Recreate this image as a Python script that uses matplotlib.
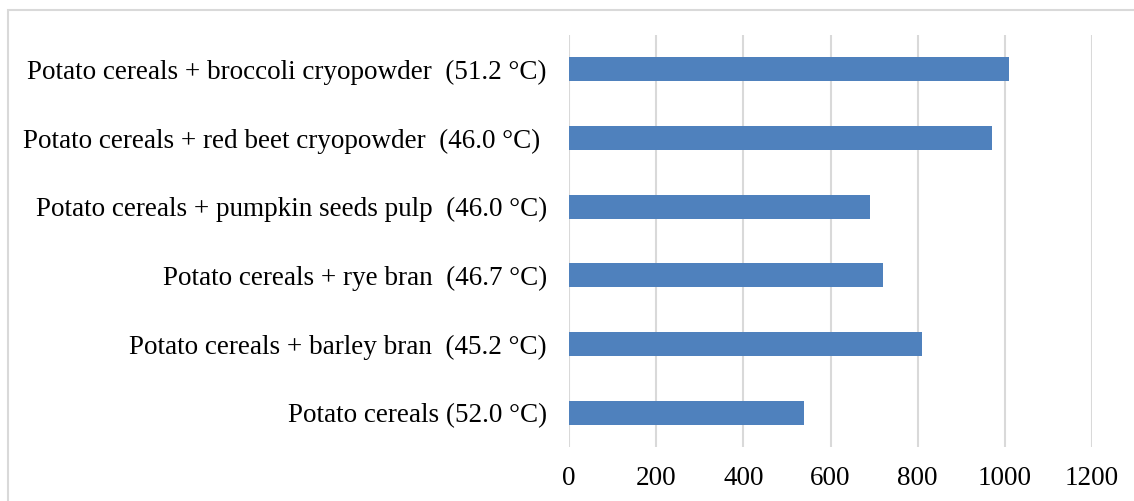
import matplotlib
matplotlib.use('Agg')
import matplotlib.pyplot as plt
from matplotlib.patches import Rectangle

# categories listed bottom to top
labels = [
    'Potato cereals (52.0 \u00b0C)',
    'Potato cereals + barley bran  (45.2 \u00b0C)',
    'Potato cereals + rye bran  (46.7 \u00b0C)',
    'Potato cereals + pumpkin seeds pulp  (46.0 \u00b0C)',
    'Potato cereals + red beet cryopowder  (46.0 \u00b0C) ',
    'Potato cereals + broccoli cryopowder  (51.2 \u00b0C)',
]
values = [540, 810, 720, 690, 970, 1010]
xticks = [0, 200, 400, 600, 800, 1000, 1200]

plt.rcParams['font.family'] = ['Liberation Serif', 'DejaVu Serif']

fig = plt.figure(figsize=(11.34, 5.01), dpi=100)
ax = fig.add_axes([569 / 1134, 1 - 447 / 501, (1092 - 569) / 1134, (447 - 35) / 501])

ax.barh(range(len(values)), values, height=0.35, color='#4F81BD', zorder=3)

ax.set_xlim(0, 1200)
ax.set_ylim(-0.5, len(values) - 0.5)
ax.set_xticks(xticks)
ax.set_yticks(range(len(labels)))
ax.set_yticklabels(labels)
ax.tick_params(axis='both', length=0, labelsize=19.5, colors='black')
ax.tick_params(axis='y', pad=16)
ax.tick_params(axis='x', pad=14)
ax.grid(axis='x', color='#D9D9D9', linewidth=1.5, zorder=0)
for s in ax.spines.values():
    s.set_visible(False)

# light frame around the chart area
fig.patches.append(Rectangle((8 / 1134, -0.1), 1.2, 1 - 10 / 501 + 0.1, transform=fig.transFigure,
                             fill=False, edgecolor='#D9D9D9', linewidth=1.5))

fig.savefig('out.png', dpi=100)
